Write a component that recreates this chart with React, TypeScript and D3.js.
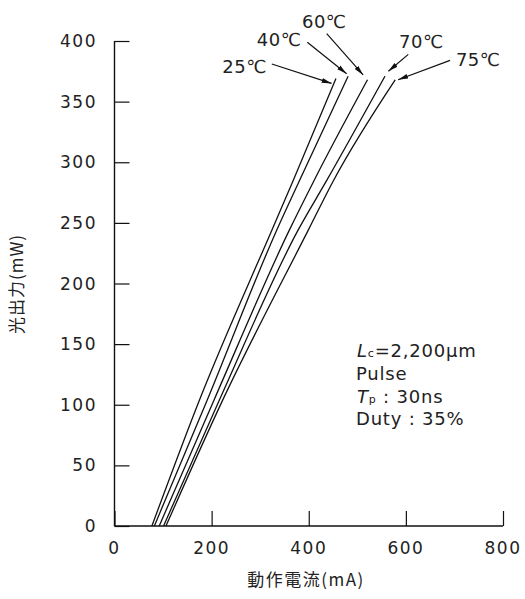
import * as d3 from "d3";
import React from "react";
import { useEffect, useRef } from "react";

// temperature curves, current (mA) vs optical output (mW)
const temps = ["25℃", "40℃", "60℃", "70℃", "75℃"];
const current25 = [77, 175, 324, 368, 456];
const current40 = [82, 191, 334, 381, 481];
const current60 = [92, 205, 360, 411, 521];
const current70 = [101, 216, 378, 437, 557];
const current75 = [106, 223, 399, 451, 578];
const power25 = [0, 104, 244, 285, 369];
const power40 = [0, 104, 244, 285, 371];
const power60 = [0, 104, 244, 285, 368];
const power70 = [0, 104, 244, 285, 371];
const power75 = [0, 104, 244, 285, 368];

const xTicks = [0, 200, 400, 600, 800];
const yTicks = [0, 50, 100, 150, 200, 250, 300, 350, 400];

// label text position, arrow start and arrow tip, in data units
const labelX = [222, 293, 386, 586, 703];
const labelY = [374, 396, 411, 394, 379];
const arrowFromX = [324, 397, 437, 605, 691];
const arrowFromY = [381, 399, 406, 389, 384];
const arrowToX = [447, 478, 512, 564, 584];
const arrowToY = [365, 373, 372, 375, 368];

const FONT = "'DejaVu Sans', sans-serif";
const CJK = "'Noto Sans CJK JP', sans-serif";

function App() {
  const ref = useRef(null);

  useEffect(() => {
    const width = 525;
    const height = 599;
    const x = d3.scaleLinear().domain([0, 800]).range([114.5, 503]);
    const y = d3.scaleLinear().domain([0, 400]).range([526, 41]);

    const root = d3.select(ref.current);
    root.selectAll("*").remove();
    const svg = root
      .append("svg")
      .attr("width", width)
      .attr("height", height)
      .style("position", "absolute")
      .style("left", 0)
      .style("top", 0)
      .style("background", "#fff");

    svg
      .append("defs")
      .append("marker")
      .attr("id", "arr")
      .attr("viewBox", "0 0 10 6")
      .attr("refX", 10)
      .attr("refY", 3)
      .attr("markerWidth", 10)
      .attr("markerHeight", 6)
      .attr("markerUnits", "userSpaceOnUse")
      .attr("orient", "auto")
      .append("path")
      .attr("d", "M0,0.6L10,3L0,5.4Z")
      .attr("fill", "#111");

    // axes, ticks point inward
    const yAxis = d3.axisRight(y).tickValues(yTicks).tickSize(15).tickFormat(() => "");
    svg.append("g").attr("transform", `translate(${x(0)},0)`).call(yAxis)
      .call((g) => g.select(".domain").attr("d", `M0,${y(0)}V${y(400)}`));
    const xAxis = d3.axisTop(x).tickValues(xTicks).tickSize(15).tickFormat(() => "");
    svg.append("g").attr("transform", `translate(0,${y(0)})`).call(xAxis)
      .call((g) => g.select(".domain").attr("d", `M${x(0)},0H${x(800)}`));
    svg.selectAll(".tick line").attr("stroke", "#111").attr("stroke-width", 1.2);
    svg.selectAll(".domain").attr("stroke", "#111").attr("stroke-width", 1.4);

    svg
      .append("g")
      .selectAll("text")
      .data(yTicks)
      .join("text")
      .attr("x", 97)
      .attr("y", (d) => y(d) + 6)
      .attr("text-anchor", "end")
      .attr("font-family", FONT)
      .attr("font-size", 17)
      .attr("letter-spacing", 1.5)
      .attr("fill", "#222")
      .text((d) => d);

    svg
      .append("g")
      .selectAll("text")
      .data(xTicks)
      .join("text")
      .attr("x", (d) => x(d))
      .attr("y", 554)
      .attr("text-anchor", "middle")
      .attr("font-family", FONT)
      .attr("font-size", 17)
      .attr("letter-spacing", 1.5)
      .attr("fill", "#222")
      .text((d) => d);

    svg
      .append("text")
      .attr("transform", `translate(23,284) rotate(-90)`)
      .attr("text-anchor", "middle")
      .attr("font-family", CJK)
      .attr("font-size", 17)
      .attr("letter-spacing", 1)
      .attr("fill", "#222")
      .text("光出力(mW)");

    svg
      .append("text")
      .attr("x", 306)
      .attr("y", 586)
      .attr("text-anchor", "middle")
      .attr("font-family", CJK)
      .attr("font-size", 17)
      .attr("letter-spacing", 1.5)
      .attr("fill", "#222")
      .text("動作電流(mA)");

    // curves
    const currents = [current25, current40, current60, current70, current75];
    const powers = [power25, power40, power60, power70, power75];
    const line = d3
      .line()
      .x((d) => x(d[0]))
      .y((d) => y(d[1]))
      .curve(d3.curveMonotoneX);
    svg
      .append("g")
      .selectAll("path")
      .data(currents.map((c, i) => c.map((v, j) => [v, powers[i][j]])))
      .join("path")
      .attr("d", line)
      .attr("fill", "none")
      .attr("stroke", "#111")
      .attr("stroke-width", 1.3);

    // labels with arrows
    const lab = svg.append("g");
    temps.forEach((t, i) => {
      lab
        .append("line")
        .attr("x1", x(arrowFromX[i]))
        .attr("y1", y(arrowFromY[i]))
        .attr("x2", x(arrowToX[i]))
        .attr("y2", y(arrowToY[i]))
        .attr("stroke", "#111")
        .attr("stroke-width", 1.2)
        .attr("marker-end", "url(#arr)");
      lab
        .append("text")
        .attr("x", x(labelX[i]))
        .attr("y", y(labelY[i]))
        .attr("font-family", FONT)
        .attr("font-size", 18)
        .attr("letter-spacing", 0.5)
        .attr("fill", "#222")
        .text(t);
    });

    // condition notes
    const notes = svg
      .append("text")
      .attr("font-family", FONT)
      .attr("font-size", 18)
      .attr("letter-spacing", 0.8)
      .attr("fill", "#222");
    const l1 = notes.append("tspan").attr("x", 357).attr("y", 357);
    l1.append("tspan").attr("font-style", "italic").text("L");
    l1.append("tspan").attr("font-size", 11).text("c");
    l1.append("tspan").text("=2,200μm");
    notes.append("tspan").attr("x", 356).attr("y", 380).text("Pulse");
    const l3 = notes.append("tspan").attr("x", 357).attr("y", 403);
    l3.append("tspan").attr("font-style", "italic").text("T");
    l3.append("tspan").attr("font-size", 11).text("p");
    l3.append("tspan").text(" : 30ns");
    notes.append("tspan").attr("x", 356).attr("y", 425).text("Duty : 35%");
  }, []);

  return <div ref={ref} />;
}

export default App;
